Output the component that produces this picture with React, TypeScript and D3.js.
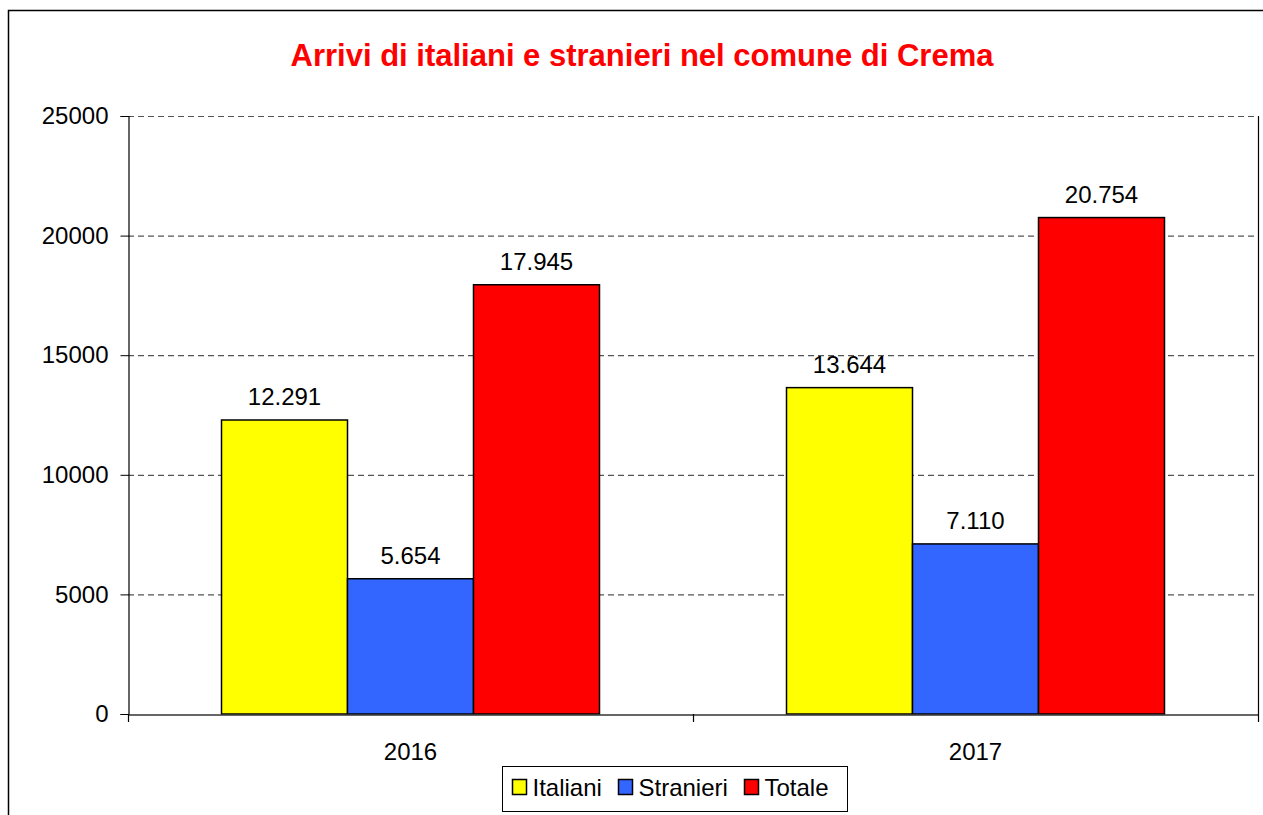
import * as d3 from 'd3';
import { useEffect, useRef } from 'react';

const years = ['2016', '2017'];
const seriesNames = ['Italiani', 'Stranieri', 'Totale'];
const seriesColors = ['#ffff00', '#3366ff', '#ff0000'];
const italiani = [12291, 13644];
const stranieri = [5654, 7110];
const totale = [17945, 20754];
const yTicks = [0, 5000, 10000, 15000, 20000, 25000];

export default function App() {
  const ref = useRef<SVGSVGElement>(null);

  useEffect(() => {
    const svg = d3.select(ref.current);
    svg.selectAll('*').remove();

    const font = 'Arial, "Liberation Sans", sans-serif';
    const plot = { left: 128, right: 1258, top: 116, bottom: 714 };
    const values = [italiani, stranieri, totale];

    // outer chart frame
    svg.append('rect')
      .attr('x', 8.5).attr('y', 10.5).attr('width', 1300).attr('height', 900)
      .attr('fill', '#fff').attr('stroke', '#000').attr('stroke-width', 1.5);

    svg.append('text')
      .attr('x', 642).attr('y', 66).attr('text-anchor', 'middle')
      .attr('font-family', font).attr('font-size', 31).attr('font-weight', 'bold')
      .attr('fill', '#ff0000')
      .text('Arrivi di italiani e stranieri nel comune di Crema');

    const x = d3.scaleBand().domain(years).range([plot.left, plot.right]);
    const y = d3.scaleLinear().domain([0, 25000]).range([plot.bottom, plot.top]);
    const inner = d3.scaleBand().domain(seriesNames)
      .range([0, x.bandwidth() * 0.669]);
    const offset = (x.bandwidth() - inner.range()[1]) / 2;

    // gridlines
    svg.append('g').selectAll('line').data(yTicks.filter((t) => t > 0)).join('line')
      .attr('x1', plot.left).attr('x2', plot.right)
      .attr('y1', (d) => y(d) + 0.5).attr('y2', (d) => y(d) + 0.5)
      .attr('stroke', '#555').attr('stroke-width', 1.2).attr('stroke-dasharray', '6,4');

    // plot right border
    svg.append('line').attr('x1', plot.right + 0.5).attr('x2', plot.right + 0.5)
      .attr('y1', plot.top).attr('y2', plot.bottom).attr('stroke', '#000').attr('stroke-width', 1.2);

    // y axis
    const yAxis = svg.append('g').attr('transform', `translate(${plot.left + 0.5},0)`)
      .call(d3.axisLeft(y).tickValues(yTicks).tickSize(8).tickPadding(12).tickFormat((d) => String(d)));
    yAxis.select('.domain').attr('stroke', '#000').attr('stroke-width', 1.2);
    yAxis.selectAll('line').attr('stroke', '#000');
    yAxis.selectAll('text').attr('font-family', font).attr('font-size', 24).attr('fill', '#000');

    // bars
    years.forEach((yr, i) => {
      const g = svg.append('g').attr('transform', `translate(${(x(yr) ?? 0) + offset},0)`);
      seriesNames.forEach((s, j) => {
        const v = values[j][i];
        g.append('rect')
          .attr('x', inner(s) ?? 0).attr('y', y(v))
          .attr('width', inner.bandwidth()).attr('height', y(0) - y(v))
          .attr('fill', seriesColors[j]).attr('stroke', '#000').attr('stroke-width', 1.5);
        g.append('text')
          .attr('x', (inner(s) ?? 0) + inner.bandwidth() / 2).attr('y', y(v) - 15)
          .attr('text-anchor', 'middle').attr('font-family', font).attr('font-size', 24)
          .text(d3.format(',')(v).replace(/,/g, '.'));
      });
    });

    // x axis
    const xAxis = svg.append('g').attr('transform', `translate(0,${plot.bottom + 0.5})`)
      .call(d3.axisBottom(x).tickSize(0).tickPadding(0));
    xAxis.select('.domain').attr('stroke', '#333').attr('stroke-width', 1.5);
    xAxis.selectAll('text').attr('font-family', font).attr('font-size', 24).attr('fill', '#000')
      .attr('dy', null).attr('y', 45);
    svg.append('g').selectAll('line').data([plot.left, plot.left + x.bandwidth(), plot.right]).join('line')
      .attr('x1', (d) => d + 0.5).attr('x2', (d) => d + 0.5)
      .attr('y1', plot.bottom).attr('y2', plot.bottom + 8)
      .attr('stroke', '#000').attr('stroke-width', 1.2);

    // legend
    const lg = svg.append('g').attr('transform', 'translate(502.5,766.5)');
    lg.append('rect').attr('width', 345).attr('height', 45)
      .attr('fill', '#fff').attr('stroke', '#000').attr('stroke-width', 1);
    const lx = [10, 116, 242];
    seriesNames.forEach((s, j) => {
      lg.append('rect').attr('x', lx[j]).attr('y', 13).attr('width', 14).attr('height', 15)
        .attr('fill', seriesColors[j]).attr('stroke', '#000').attr('stroke-width', 1.5);
      lg.append('text').attr('x', lx[j] + 20).attr('y', 29)
        .attr('font-family', font).attr('font-size', 24).text(s);
    });
  }, []);

  return (
    <svg ref={ref} width={1263} height={815}
      style={{ position: 'absolute', left: 0, top: 0 }} />
  );
}
